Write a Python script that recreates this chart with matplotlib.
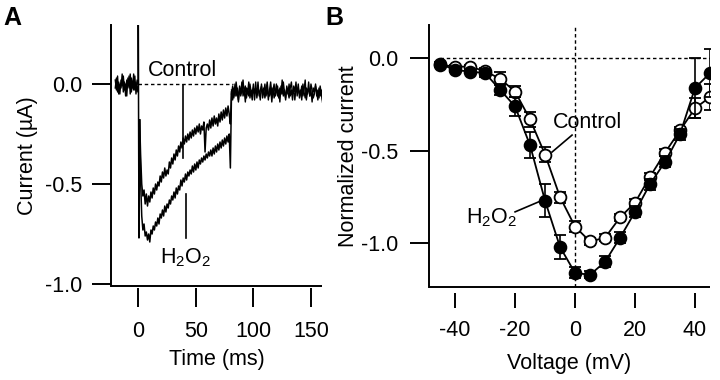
import matplotlib
matplotlib.use("Agg")
import matplotlib.pyplot as plt
import numpy as np

plt.rcParams['font.family'] = ['Liberation Sans', 'DejaVu Sans']
plt.rcParams['mathtext.fontset'] = 'custom'
plt.rcParams['mathtext.rm'] = 'Liberation Sans'
plt.rcParams['mathtext.it'] = 'Liberation Sans:italic'
plt.rcParams['mathtext.default'] = 'regular'

# ---------------- Panel A data (current traces, µA vs ms) ----------------
pre_t = list(range(-20, 1))
pre_control_v = [-0.02, 0.03, -0.04, 0.01, -0.05, 0.02, -0.01, 0.04, -0.03, 0.00, -0.06,
                 0.03, -0.02, 0.05, -0.04, 0.01, -0.03, 0.04, -0.05, 0.02, 0.00]
pre_h2o2_v = [0.02, -0.03, 0.04, -0.05, 0.00, -0.02, 0.05, -0.04, 0.01, -0.06, 0.02,
              -0.01, 0.04, -0.05, 0.03, -0.02, 0.05, -0.03, 0.01, -0.04, 0.00]

artifact_t = [0, 0, 0.6, 1.2]
artifact_v = [0.0, 0.30, -0.77, -0.18]

trace_t = list(range(2, 81))
control_v = [-0.35, -0.50, -0.56, -0.53, -0.60, -0.55, -0.61, -0.56, -0.59, -0.54,
             -0.57, -0.52, -0.55, -0.50, -0.53, -0.49, -0.51, -0.46, -0.49, -0.44,
             -0.47, -0.42, -0.46, -0.43, -0.45, -0.39, -0.42, -0.37, -0.40, -0.35,
             -0.38, -0.33, -0.36, -0.31, -0.34, -0.29, -0.32, -0.27, -0.30, -0.26,
             -0.29, -0.25, -0.28, -0.24, -0.27, -0.23, -0.26, -0.22, -0.25, -0.21,
             -0.24, -0.20, -0.25, -0.21, -0.23, -0.19, -0.34, -0.22, -0.20, -0.23,
             -0.18, -0.22, -0.17, -0.21, -0.16, -0.20, -0.17, -0.21, -0.15, -0.19,
             -0.14, -0.18, -0.13, -0.17, -0.12, -0.16, -0.11, -0.15, -0.20]
h2o2_v = [-0.48, -0.66, -0.73, -0.70, -0.76, -0.74, -0.78, -0.75, -0.79, -0.73,
          -0.75, -0.71, -0.73, -0.69, -0.71, -0.67, -0.70, -0.65, -0.67, -0.63,
          -0.66, -0.61, -0.64, -0.60, -0.62, -0.58, -0.60, -0.56, -0.58, -0.54,
          -0.57, -0.52, -0.55, -0.51, -0.53, -0.48, -0.51, -0.47, -0.49, -0.45,
          -0.48, -0.44, -0.46, -0.43, -0.45, -0.41, -0.44, -0.40, -0.43, -0.39,
          -0.42, -0.38, -0.40, -0.37, -0.39, -0.36, -0.38, -0.35, -0.37, -0.34,
          -0.36, -0.33, -0.36, -0.32, -0.35, -0.31, -0.34, -0.30, -0.33, -0.29,
          -0.32, -0.28, -0.31, -0.27, -0.30, -0.26, -0.29, -0.25, -0.42]

post_t = list(range(81, 161))
post_control_v = [-0.05, -0.01, -0.07, 0.00, -0.06, -0.02, -0.08, -0.01, -0.05, 0.01,
                  -0.06, -0.03, -0.09, -0.02, -0.04, 0.01, -0.07, -0.03, -0.05, 0.00,
                  -0.08, -0.02, -0.05, 0.01, -0.06, -0.03, -0.01, -0.07, -0.04, 0.00,
                  -0.06, -0.02, -0.08, -0.03, 0.01, -0.05, -0.02, -0.07, -0.04, 0.00,
                  -0.06, -0.03, -0.09, -0.01, -0.05, 0.01, -0.04, -0.07, -0.02, -0.05,
                  0.00, -0.06, -0.03, -0.08, -0.01, -0.04, 0.01, -0.06, -0.02, -0.05,
                  -0.03, -0.08, 0.00, -0.04, -0.07, -0.02, -0.05, 0.01, -0.06, -0.03,
                  -0.09, -0.02, -0.04, 0.00, -0.06, -0.03, -0.07, -0.01, -0.05, -0.08]
post_h2o2_v = [-0.03, -0.08, -0.02, -0.06, 0.01, -0.04, -0.09, -0.02, -0.06, -0.03,
               0.02, -0.05, -0.01, -0.07, -0.03, -0.06, 0.00, -0.04, -0.08, -0.02,
               -0.05, 0.01, -0.07, -0.03, -0.04, -0.08, 0.00, -0.05, -0.02, -0.07,
               -0.03, 0.01, -0.05, -0.06, -0.02, -0.09, -0.03, 0.00, -0.06, -0.04,
               -0.01, -0.07, -0.02, -0.05, 0.02, -0.06, -0.03, -0.08, -0.01, -0.04,
               -0.07, -0.02, 0.01, -0.05, -0.03, -0.08, -0.02, -0.04, 0.00, -0.07,
               -0.05, -0.01, -0.06, -0.03, 0.02, -0.08, -0.04, -0.02, -0.06, 0.00,
               -0.03, -0.07, -0.05, -0.01, -0.04, -0.08, -0.02, -0.06, -0.03, -0.09]

a_xticks = [0, 50, 100, 150]
a_yticks = [0.0, -0.5, -1.0]

# ---------------- Panel B data (normalized I-V) ----------------
voltage = [-45, -40, -35, -30, -25, -20, -15, -10, -5, 0, 5, 10, 15, 20, 25, 30, 35, 40, 45]
control_iv = [-0.035, -0.045, -0.045, -0.07, -0.11, -0.18, -0.33, -0.52, -0.75, -0.91,
              -0.99, -0.97, -0.86, -0.78, -0.64, -0.51, -0.39, -0.27, -0.21]
control_err = [0.01, 0.01, 0.01, 0.02, 0.035, 0.03, 0.04, 0.04, 0.03, 0.03,
               0.02, 0.02, 0.02, 0.02, 0.02, 0.02, 0.02, 0.055, 0.07]
h2o2_iv = [-0.03, -0.063, -0.072, -0.08, -0.17, -0.26, -0.47, -0.77, -1.02, -1.16,
           -1.17, -1.10, -0.97, -0.83, -0.68, -0.56, -0.41, -0.16, -0.08]
h2o2_err = [0.01, 0.01, 0.01, 0.02, 0.03, 0.05, 0.07, 0.09, 0.065, 0.03,
            0.02, 0.03, 0.03, 0.03, 0.03, 0.03, 0.03, 0.16, 0.13]
b_xticks = [-40, -20, 0, 20, 40]
b_yticks = [0.0, -0.5, -1.0]

FS = 15.5
LW = 1.4

fig = plt.figure(figsize=(7.2, 3.8), dpi=100)
axA = fig.add_axes([111/720, 1-286/380, 211/720, 261/380])
axB = fig.add_axes([429/720, 1-287/380, 281/720, 262/380])


def style(ax, xoff_pt, xtick_len, ylab_pad, xlab_pad):
    for s in ['top', 'right']:
        ax.spines[s].set_visible(False)
    ax.spines['left'].set_linewidth(LW)
    ax.spines['bottom'].set_position(('outward', xoff_pt))
    ax.spines['bottom'].set_visible(False)
    ax.plot([0, 1], [0, 0], transform=ax.transAxes, color='k', lw=LW,
            clip_on=False, solid_capstyle='butt')
    ax.tick_params(axis='y', direction='out', length=13.5, width=LW, pad=ylab_pad,
                   labelsize=FS)
    ax.tick_params(axis='x', direction='out', length=xtick_len, width=LW,
                   pad=xlab_pad, labelsize=FS)


# ---------------- Panel A ----------------
style(axA, 1.5, 13.5, 7.0, 10.5)
axA.set_xlim(-23.7, 159.6)
axA.set_ylim(-1.01, 0.295)
axA.set_xticks(a_xticks)
axA.set_xticklabels([str(v) for v in a_xticks])
axA.set_yticks(a_yticks)
axA.set_yticklabels(['0.0', '-0.5', '-1.0'])

axA.plot([0, 82], [0, 0], color='k', lw=1.0, ls=(0, (2.5, 2)))
axA.plot(pre_t, pre_control_v, color='k', lw=1.0)
axA.plot(pre_t, pre_h2o2_v, color='k', lw=1.0)
axA.plot(artifact_t, artifact_v, color='k', lw=1.1)
axA.plot([1.2] + trace_t + [81], [-0.18] + control_v + [-0.04], color='k', lw=1.1)
axA.plot([1.2] + trace_t + [81], [-0.18] + h2o2_v + [-0.04], color='k', lw=1.1)
axA.plot(post_t, post_control_v, color='k', lw=1.0)
axA.plot(post_t, post_h2o2_v, color='k', lw=1.0)

axA.plot([39, 39], [-0.005, -0.37], color='k', lw=1.2)
axA.plot([41.5, 41.5], [-0.55, -0.77], color='k', lw=1.2)
axA.text(38.5, 0.07, 'Control', fontsize=FS, ha='center', va='center')
axA.text(41.5, -0.87, 'H$_2$O$_2$', fontsize=FS, ha='center', va='center')

axA.set_xlabel('Time (ms)', fontsize=FS)
axA.xaxis.set_label_coords(0.5, (286-360)/261)
axA.xaxis.label.set_va('center')
axA.set_ylabel('Current (µA)', fontsize=FS)
axA.yaxis.set_label_coords((28-111)/211, 0.5)
axA.yaxis.label.set_va('center')

# ---------------- Panel B ----------------
style(axB, 4.5, 10.5, 8.5, 9.0)
axB.set_xlim(-48.7, 45.0)
axB.set_ylim(-1.236, 0.18)
axB.set_xticks(b_xticks)
axB.set_xticklabels([str(v) for v in b_xticks])
axB.set_yticks(b_yticks)
axB.set_yticklabels(['0.0', '-0.5', '-1.0'])

axB.plot([-45, 45], [0, 0], color='k', lw=1.0, ls=(0, (2.5, 2)))
axB.plot([0, 0], [-1.236, 0.18], color='k', lw=1.0, ls=(0, (2.5, 2)))

axB.errorbar(voltage, control_iv, yerr=control_err, color='k', lw=1.3,
             marker='o', ms=8.5, mfc='white', mec='k', mew=1.3,
             capsize=4.5, capthick=1.2, elinewidth=1.2, zorder=3)
axB.errorbar(voltage, h2o2_iv, yerr=h2o2_err, color='k', lw=1.3,
             marker='o', ms=8.5, mfc='k', mec='k', mew=1.3,
             capsize=4.5, capthick=1.2, elinewidth=1.2, zorder=4)

axB.plot([-7.7, -1.0], [-0.507, -0.415], color='k', lw=1.2)
axB.plot([-20.0, -10.7], [-0.83, -0.766], color='k', lw=1.2)
axB.text(4.3, -0.345, 'Control', fontsize=FS, ha='center', va='center')
axB.text(-27.7, -0.86, 'H$_2$O$_2$', fontsize=FS, ha='center', va='center')

axB.set_xlabel('Voltage (mV)', fontsize=FS)
axB.xaxis.set_label_coords(0.5, (287-363)/262)
axB.xaxis.label.set_va('center')
axB.set_ylabel('Normalized current', fontsize=FS)
axB.yaxis.set_label_coords((349-429)/281, 0.5)
axB.yaxis.label.set_va('center')

fig.text(12/720, 1-18/380, 'A', fontsize=18, fontweight='bold', ha='center', va='center')
fig.text(334/720, 1-18/380, 'B', fontsize=18, fontweight='bold', ha='center', va='center')

fig.savefig('out.png', dpi=100)
